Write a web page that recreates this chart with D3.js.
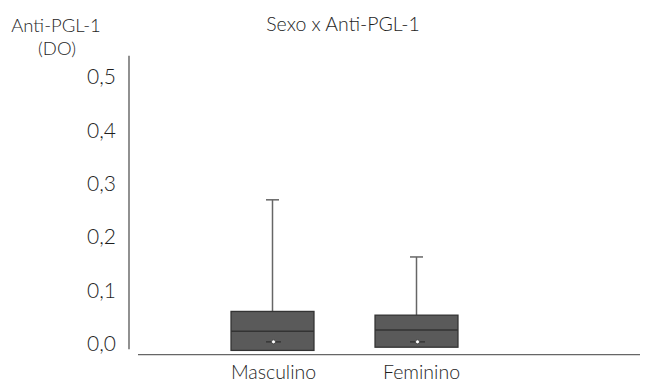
<!DOCTYPE html>
<html><head><meta charset="utf-8">
<script src="https://cdn.jsdelivr.net/npm/d3@7"></script>
<style>body{margin:0;background:#fff}svg{display:block}text{font-family:Lato,"DejaVu Sans",sans-serif;font-weight:300;fill:#1e1e1e}</style>
</head><body><svg id="c" width="646" height="383"></svg>
<script>
const categories = ["Masculino", "Feminino"];
const whiskerTop = [0.270, 0.163];
const q3 = [0.061, 0.054];
const median = [0.024, 0.026];
const q1 = [-0.012, -0.006];
const mean = [0.004, 0.004];
const yTicks = [0, 0.1, 0.2, 0.3, 0.4, 0.5];
const yTickLabels = ["0,0", "0,1", "0,2", "0,3", "0,4", "0,5"];
const title = "Sexo x Anti-PGL-1";
const yTitle = ["Anti-PGL-1", "(DO)"];

const svg = d3.select("#c");
const y = d3.scaleLinear().domain([0, 0.5]).range([344, 77]);
const x = d3.scaleBand().domain(categories).range([200.5, 488.5]).paddingInner(0.424).paddingOuter(0.212);

// y axis
const yAxis = d3.axisLeft(y).tickValues(yTicks).tickSize(0).tickPadding(13)
  .tickFormat((d, i) => yTickLabels[i]);
const gy = svg.append("g").attr("transform", "translate(129,0)").call(yAxis);
gy.select(".domain").remove();
gy.selectAll("text").style("font-size", "21px").attr("fill", "#1e1e1e").attr("font-family", null);
svg.append("line").attr("x1", 129).attr("x2", 129).attr("y1", y(0.54)).attr("y2", y(-0.01))
  .attr("stroke", "#555").attr("stroke-width", 1.3);

// x axis
const xAxis = d3.axisBottom(x).tickSize(0).tickPadding(10);
const gx = svg.append("g").attr("transform", `translate(0,${y(-0.02)})`).call(xAxis);
gx.select(".domain").remove();
gx.selectAll("text").style("font-size", "19.5px").attr("fill", "#1e1e1e").attr("font-family", null)
  .attr("dx", (d, i) => i === 1 ? 5 : 1);
svg.append("line").attr("x1", 138).attr("x2", 640).attr("y1", y(-0.02)).attr("y2", y(-0.02))
  .attr("stroke", "#666").attr("stroke-width", 1.3);

// boxes
const g = svg.append("g");
categories.forEach((c, i) => {
  const cx = x(c) + x.bandwidth() / 2;
  g.append("line").attr("x1", cx).attr("x2", cx).attr("y1", y(whiskerTop[i])).attr("y2", y(q3[i]))
    .attr("stroke", "#666").attr("stroke-width", 1.5);
  g.append("line").attr("x1", cx - 6.5).attr("x2", cx + 6.5).attr("y1", y(whiskerTop[i])).attr("y2", y(whiskerTop[i]))
    .attr("stroke", "#666").attr("stroke-width", 1.5);
  g.append("rect").attr("x", x(c)).attr("width", x.bandwidth())
    .attr("y", y(q3[i])).attr("height", y(q1[i]) - y(q3[i]))
    .attr("fill", "#5a5a5a").attr("stroke", "#333").attr("stroke-width", 1.3);
  g.append("line").attr("x1", x(c)).attr("x2", x(c) + x.bandwidth()).attr("y1", y(median[i])).attr("y2", y(median[i]))
    .attr("stroke", "#333").attr("stroke-width", 1.5);
  g.append("line").attr("x1", cx - 6.5).attr("x2", cx + 8.5).attr("y1", y(mean[i])).attr("y2", y(mean[i]))
    .attr("stroke", "#333").attr("stroke-width", 1.3);
  g.append("circle").attr("cx", cx + 1).attr("cy", y(mean[i])).attr("r", 2)
    .attr("fill", "#fff").attr("stroke", "#333").attr("stroke-width", 0.7);
});

svg.append("text").attr("x", 343).attr("y", 31).attr("text-anchor", "middle").style("font-size", "19.5px").text(title);
svg.append("text").attr("x", 56).attr("y", 32).attr("text-anchor", "middle").style("font-size", "18.5px").text(yTitle[0]);
svg.append("text").attr("x", 57).attr("y", 55).attr("text-anchor", "middle").style("font-size", "18.5px").text(yTitle[1]);
</script></body></html>
